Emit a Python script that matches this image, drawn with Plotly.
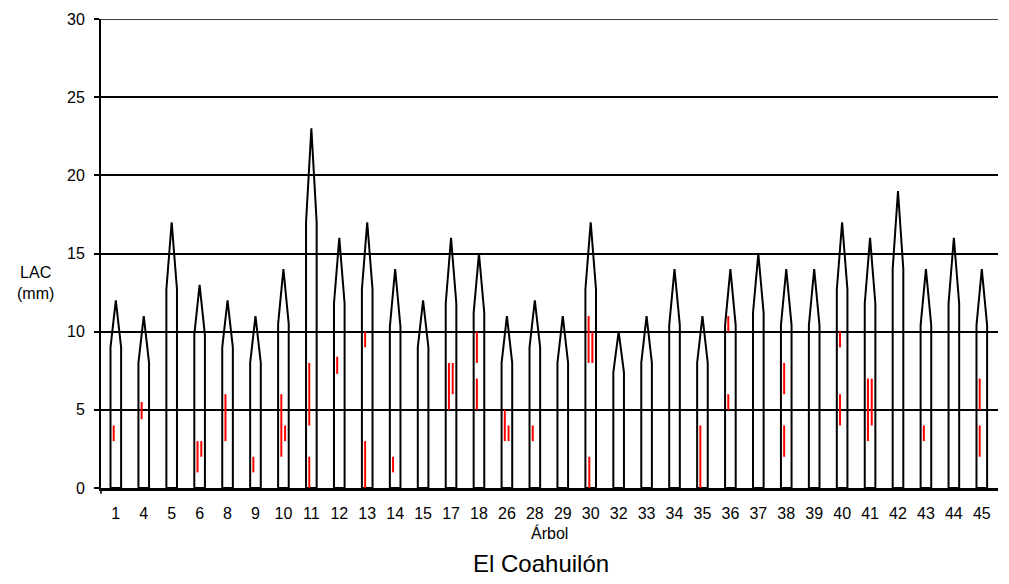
import plotly.graph_objects as go

# ---- data ----
arboles = [1, 4, 5, 6, 8, 9, 10, 11, 12, 13, 14, 15, 17, 18, 26, 28, 29, 30,
           32, 33, 34, 35, 36, 37, 38, 39, 40, 41, 42, 43, 44, 45]
altura = [12, 11, 17, 13, 12, 11, 14, 23, 16, 17, 14, 12, 16, 15, 11, 12, 11, 17,
          10, 11, 14, 11, 14, 15, 14, 14, 17, 16, 19, 14, 16, 14]
hombro = [9, 8, 12.7, 9.8, 9, 8, 10.5, 17, 11.8, 12.7, 10.3, 9, 11.8, 11.2, 8, 9, 8, 12.7,
          7.4, 8, 10.4, 8, 10.4, 11.2, 10.4, 10.4, 12.7, 11.8, 14, 10.4, 11.8, 10.4]

# red segments: (árbol, start, end, slot)
rojo_arbol = [1, 4, 6, 6, 8, 9, 10, 10, 11, 11, 12, 13, 13, 14, 17, 17, 18, 18,
              26, 26, 28, 30, 30, 30, 35, 36, 36, 38, 38, 40, 40, 41, 41, 43, 45, 45]
rojo_ini = [3, 4.4, 1, 2, 3, 1, 2, 3, 4, 0, 7.3, 9, 0, 1, 5, 6, 8, 5,
            3, 3, 3, 8, 8, 0, 0, 10, 5, 6, 2, 9, 4, 3, 4, 3, 5, 2]
rojo_fin = [4, 5.5, 3, 3, 6, 2, 6, 4, 8, 2, 8.4, 10, 3, 2, 8, 8, 10, 7,
            5, 4, 4, 11, 10, 2, 4, 11, 6, 8, 4, 10, 6, 7, 7, 4, 7, 4]
rojo_pos = ["L", "L", "L", "R", "L", "L", "L", "R", "L", "L", "L", "L", "L", "L", "L", "R", "L", "L",
            "L", "R", "L", "L", "R", "M", "L", "L", "L", "L", "L", "L", "L", "L", "R", "L", "L", "L"]

yticks = [0, 5, 10, 15, 20, 25, 30]

# ---- style ----
HALF_W = 0.19
SLOT_OFF = {"L": -0.075, "R": 0.06, "M": -0.05}
FONT = "Liberation Sans, Arial, sans-serif"

idx = {a: i for i, a in enumerate(arboles)}

tx, ty = [], []
for i, (h, s) in enumerate(zip(altura, hombro)):
    tx += [i - HALF_W, i - HALF_W, i, i + HALF_W, i + HALF_W, i - HALF_W, None]
    ty += [0, s, h, s, 0, 0, None]

rx, ry = [], []
for a, y0, y1, p in zip(rojo_arbol, rojo_ini, rojo_fin, rojo_pos):
    x = idx[a] + SLOT_OFF[p]
    rx += [x, x, None]
    ry += [y0, y1, None]

fig = go.Figure()
fig.add_trace(go.Scatter(x=tx, y=ty, mode="lines",
                         line=dict(color="black", width=2), hoverinfo="skip",
                         showlegend=False))
fig.add_trace(go.Scatter(x=rx, y=ry, mode="lines",
                         line=dict(color="#FF0000", width=2), hoverinfo="skip",
                         showlegend=False))

fig.update_layout(
    width=1009, height=584,
    margin=dict(l=101, r=11, t=13, b=96),
    paper_bgcolor="white", plot_bgcolor="white",
    font=dict(family=FONT, size=16, color="black"),
    xaxis=dict(range=[-0.53, 31.58], tickvals=list(range(len(arboles))),
               ticktext=[str(a) for a in arboles], showgrid=False, zeroline=False,
               showline=True, linecolor="black", linewidth=2.5,
               ticks="outside", ticklen=9, tickcolor="rgba(0,0,0,0)",
               tickfont=dict(size=16, family=FONT, color="black")),
    yaxis=dict(range=[0, 30], tickvals=yticks, showgrid=True, gridcolor="black",
               gridwidth=1.5, zeroline=False, showline=True, linecolor="black",
               linewidth=2, ticks="outside", ticklen=5, tickcolor="black", tickwidth=1.5,
               ticklabelstandoff=6,
               tickfont=dict(size=16, family=FONT, color="black")),
    shapes=[
        dict(type="line", xref="paper", yref="paper", x0=0, x1=0, y0=0, y1=-0.012,
             line=dict(color="black", width=1.5)),
        dict(type="line", xref="paper", yref="y", x0=0, x1=1, y0=yticks[-1], y1=yticks[-1],
             line=dict(color="black", width=1.5)),
    ],
    annotations=[
        dict(text="LAC<br>(mm)", xref="paper", yref="paper", x=-0.073, y=0.438,
             showarrow=False, font=dict(size=16, family=FONT, color="black"),
             xanchor="center", yanchor="middle"),
        dict(text="Árbol", xref="paper", yref="paper", x=0.5, y=-0.095,
             showarrow=False, font=dict(size=16, family=FONT, color="black"),
             xanchor="center", yanchor="middle"),
        dict(text="El Coahuilón", xref="paper", yref="paper", x=0.49, y=-0.162,
             showarrow=False, font=dict(size=24, family=FONT, color="black"),
             xanchor="center", yanchor="middle"),
    ],
)

fig.write_html("out.html", config={"displayModeBar": False},
               post_script="document.body.style.margin='0px';")
